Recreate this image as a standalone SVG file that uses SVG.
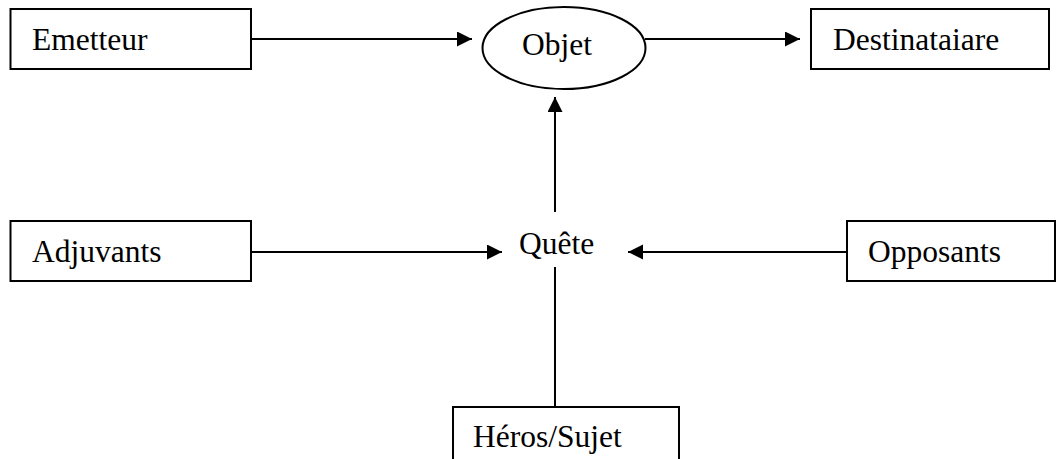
<svg xmlns="http://www.w3.org/2000/svg" width="1056" height="459" viewBox="0 0 1056 459">
<style>
.box{fill:#fff;stroke:#000;stroke-width:2}
.lbl{font-family:"Liberation Serif","Times New Roman",serif;font-size:31.5px;fill:#000}
.con{stroke:#000;stroke-width:2;fill:none}
</style>
<defs>
<marker id="ah" markerUnits="userSpaceOnUse" markerWidth="16" markerHeight="16" refX="15" refY="7.5" orient="auto">
<path d="M0,0 L15,7.5 L0,15 z" fill="#000"/>
</marker>
</defs>
<rect width="1056" height="459" fill="#fff"/>
<g id="connectors">
<line class="con" x1="251" y1="39" x2="472" y2="39" marker-end="url(#ah)"/>
<line class="con" x1="645" y1="39" x2="800" y2="39" marker-end="url(#ah)"/>
<line class="con" x1="555" y1="212" x2="555" y2="97" marker-end="url(#ah)"/>
<line class="con" x1="251" y1="252" x2="502" y2="252" marker-end="url(#ah)"/>
<line class="con" x1="847" y1="252" x2="628" y2="252" marker-end="url(#ah)"/>
<line class="con" x1="555" y1="267" x2="555" y2="407"/>
</g>
<g id="emetteur">
<rect class="box" x="10.5" y="9" width="240.5" height="60"/>
<text class="lbl" x="32" y="50">Emetteur</text>
</g>
<g id="objet">
<ellipse class="box" cx="564" cy="48" rx="81.5" ry="41"/>
<text class="lbl" x="522" y="55">Objet</text>
</g>
<g id="destinataire">
<rect class="box" x="811" y="9" width="238" height="60"/>
<text class="lbl" x="833" y="50">Destinataiare</text>
</g>
<g id="adjuvants">
<rect class="box" x="10.5" y="221" width="240.5" height="60"/>
<text class="lbl" x="32" y="262">Adjuvants</text>
</g>
<g id="quete">
<text class="lbl" x="519" y="254">Quête</text>
</g>
<g id="opposants">
<rect class="box" x="847" y="221" width="208" height="60"/>
<text class="lbl" x="868" y="262">Opposants</text>
</g>
<g id="heros">
<rect class="box" x="453" y="407" width="226" height="70"/>
<text class="lbl" x="473" y="447">Héros/Sujet</text>
</g>
</svg>
